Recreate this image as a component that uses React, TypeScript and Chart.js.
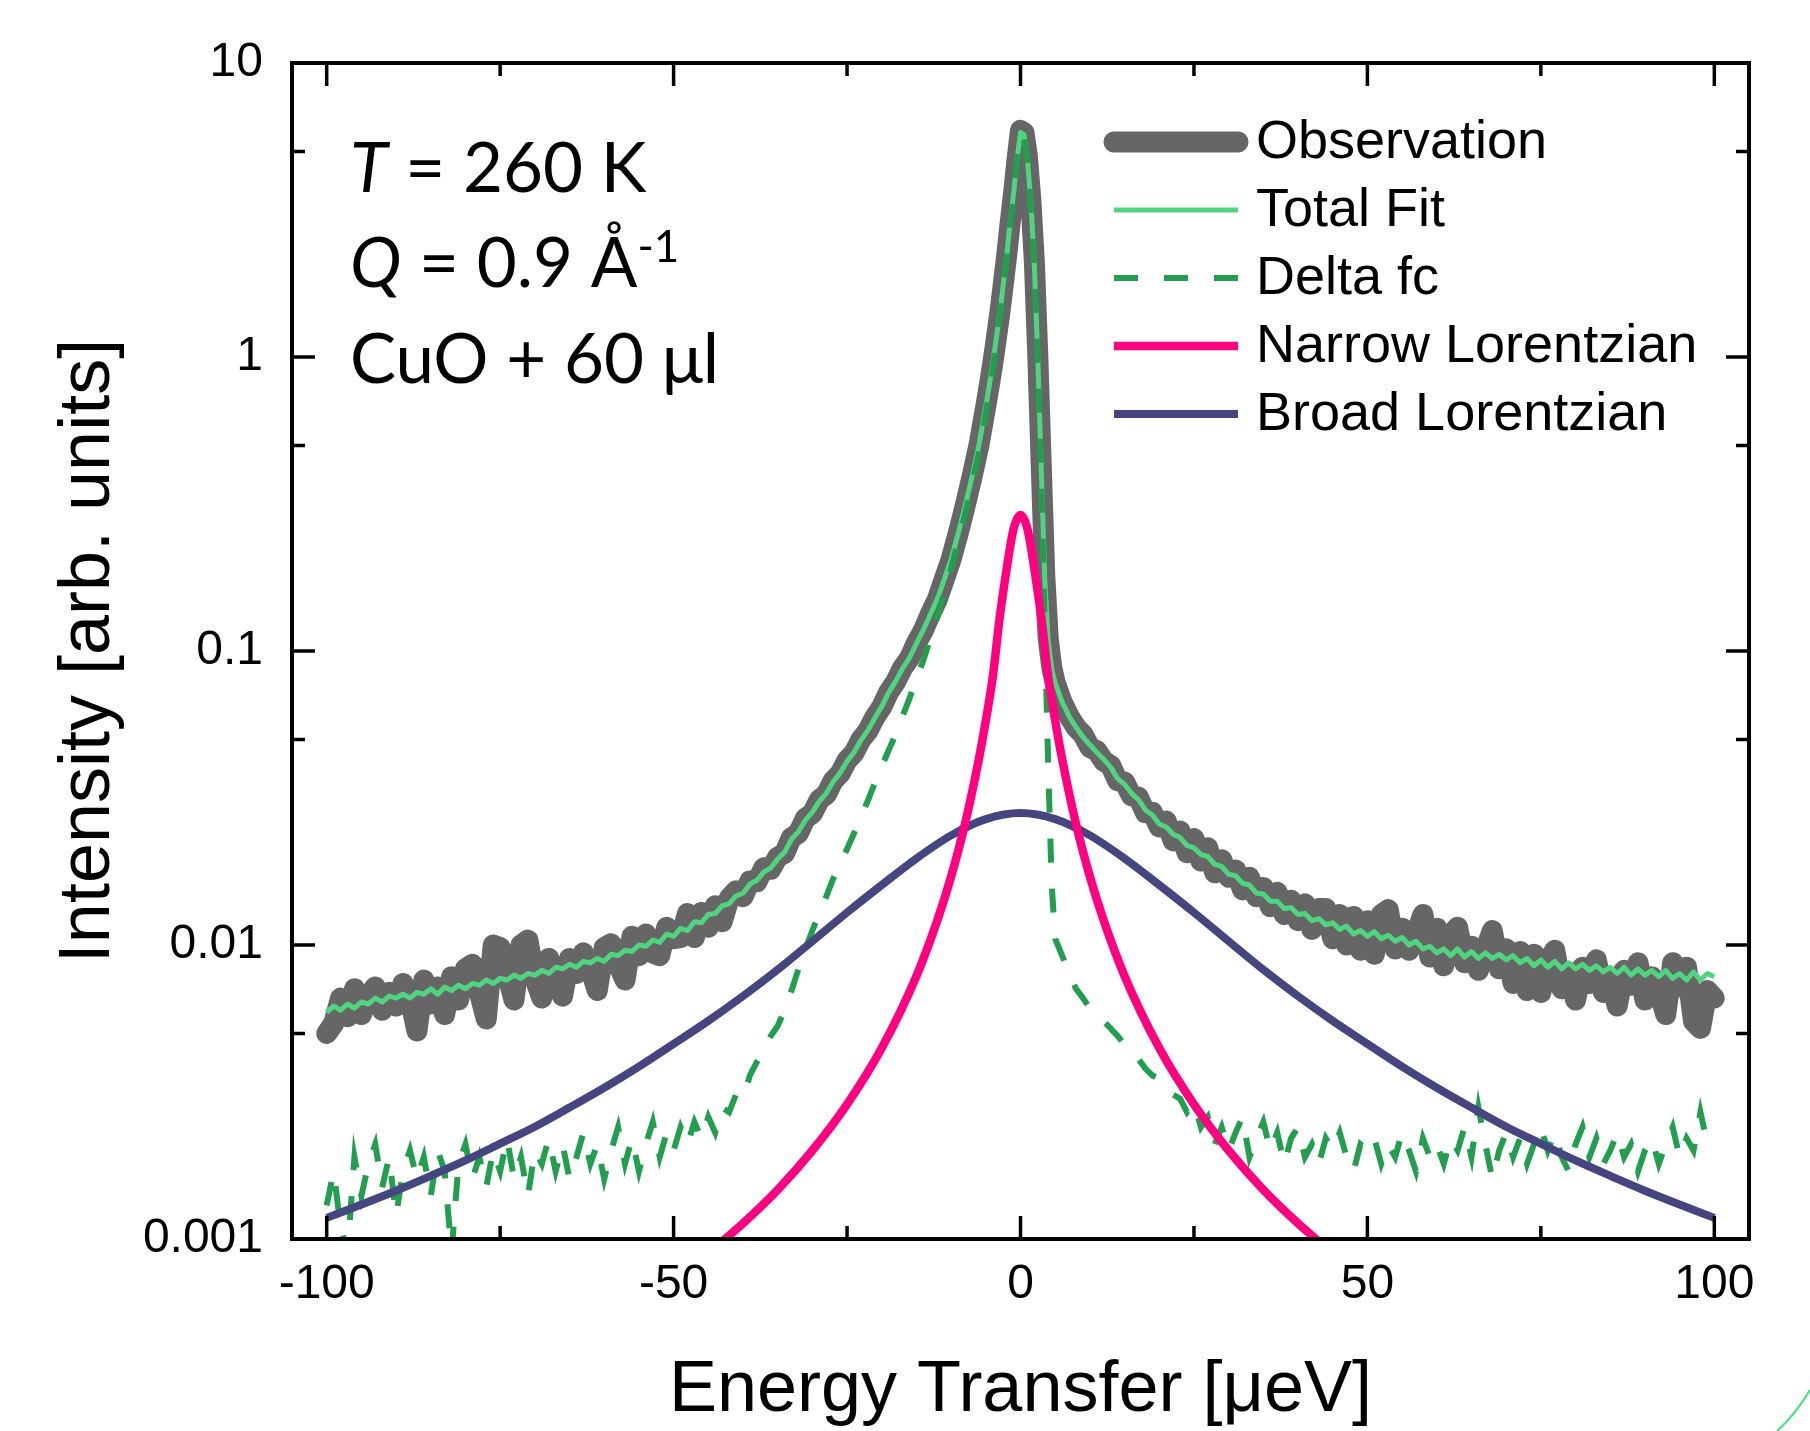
import React, { useEffect, useRef } from 'react';
import { Chart, registerables } from 'chart.js';

Chart.register(...registerables);

const W = 1810;
const H = 1431;

// ---- data -----------------------------------------------------------------
const energy = [
  -100, -99, -98, -97, -96, -95, -94, -93, -92, -91,
  -90, -89, -88, -87, -86, -85, -84, -83, -82, -81,
  -80, -79, -78, -77, -76, -75, -74, -73, -72, -71,
  -70, -69, -68, -67, -66, -65, -64, -63, -62, -61,
  -60, -59, -58, -57, -56, -55, -54, -53, -52, -51,
  -50, -49, -48, -47, -46, -45, -44, -43, -42, -41,
  -40, -39, -38, -37, -36, -35, -34, -33, -32, -31,
  -30, -29, -28, -27, -26, -25, -24, -23, -22, -21,
  -20, -19, -18, -17, -16, -15, -14, -13, -12, -11,
  -10, -9, -8, -7, -6, -5,
  -4.5, -4, -3.5, -3, -2.5, -2, -1.5, -1, -0.5, 0, 0.5, 1, 1.5, 2, 2.5, 3, 3.5, 4, 4.5,
  5, 6, 7, 8, 9, 10, 11, 12, 13, 14,
  15, 16, 17, 18, 19, 20, 21, 22, 23, 24,
  25, 26, 27, 28, 29, 30, 31, 32, 33, 34,
  35, 36, 37, 38, 39, 40, 41, 42, 43, 44,
  45, 46, 47, 48, 49, 50, 51, 52, 53, 54,
  55, 56, 57, 58, 59, 60, 61, 62, 63, 64,
  65, 66, 67, 68, 69, 70, 71, 72, 73, 74,
  75, 76, 77, 78, 79, 80, 81, 82, 83, 84,
  85, 86, 87, 88, 89, 90, 91, 92, 93, 94,
  95, 96, 97, 98, 99, 100,
];

const observation = [
  .0050, .0054, .0066, .0057, .0071, .0058, .0067, .0072, .0060, .0069,
  .0062, .0074, .0066, .0051, .0076, .0063, .0072, .0058, .0078, .0065,
  .0083, .0086, .0069, .0056, .0100, .0098, .0080, .0065, .0100, .0104,
  .0077, .0066, .0090, .0078, .0067, .0090, .0080, .0094, .0083, .0070,
  .0098, .0101, .0086, .0076, .0107, .0092, .0109, .0094, .0092, .0115,
  .0105, .0106, .0128, .0106, .0129, .0115, .0136, .0120, .0144, .0153,
  .0146, .0165, .0164, .0183, .0181, .0199, .0205, .0232, .0240, .0270,
  .0280, .0312, .0325, .0362, .0383, .0425, .0450, .0500, .0535, .0595,
  .0645, .0725, .0785, .0875, .0945, .1065, .1175, .1335, .1495, .175,
  .205, .25, .31, .39, .50, .68,
  .80, .95, 1.15, 1.40, 1.75, 2.2, 2.85, 3.6, 4.7, 5.9, 5.8, 4.8, 3.4, 2.1, 1.0, 0.42, 0.18, 0.11, 0.088,
  .078, .067, .060, .055, .052, .047, .0458, .0422, .0408, .0362,
  .0358, .0322, .0318, .0282, .0283, .0252, .0264, .0226, .0244, .0206,
  .0230, .0193, .0214, .0176, .0195, .0170, .0180, .0154, .0170, .0146,
  .0157, .0135, .0151, .0127, .0142, .0121, .0138, .0113, .0133, .0133,
  .0105, .0127, .0100, .0125, .0096, .0121, .0093, .0127, .0132, .0097,
  .0114, .0096, .0109, .0127, .0091, .0114, .0085, .0108, .0115, .0087,
  .0099, .0082, .0096, .0112, .0083, .0097, .0074, .0095, .0070, .0093,
  .0069, .0088, .0096, .0071, .0081, .0065, .0084, .0074, .0089, .0069,
  .0078, .0062, .0082, .0073, .0087, .0065, .0078, .0070, .0058, .0087,
  .0072, .0084, .0055, .0052, .0070, .0066,
];

const totalFit = [
  .0059, .0062, .0060, .0063, .0061, .0064, .0063, .0066, .0064, .0067,
  .0066, .0068, .0066, .0069, .0068, .0071, .0068, .0072, .0070, .0073,
  .0071, .0074, .0073, .0076, .0074, .0077, .0076, .0079, .0077, .0080,
  .0079, .0082, .0080, .0084, .0083, .0086, .0084, .0088, .0087, .0090,
  .0088, .0093, .0092, .0096, .0095, .0100, .0099, .0104, .0102, .0109,
  .0107, .0114, .0112, .0120, .0119, .0127, .0128, .0136, .0138, .0147,
  .0150, .0161, .0166, .0177, .0183, .0196, .0207, .0229, .0243, .0266,
  .0283, .0308, .0328, .0359, .0385, .0422, .0452, .0497, .0537, .0592,
  .0648, .0722, .0788, .0872, .0948, .106, .118, .133, .150, .175,
  .205, .25, .31, .39, .50, .68,
  .80, .95, 1.15, 1.40, 1.75, 2.2, 2.85, 3.6, 4.7, 5.8, 5.7, 4.7, 3.35, 2.05, 0.98, 0.41, 0.175, 0.108, 0.087,
  .078, .067, .060, .055, .051, .048, .0452, .0428, .0402, .0368,
  .0352, .0328, .0312, .0288, .0277, .0258, .0252, .0238, .0232, .0218,
  .0214, .0203, .0200, .0188, .0185, .0174, .0172, .0162, .0160, .0150,
  .0149, .0141, .0141, .0133, .0134, .0127, .0128, .0121, .0123, .0117,
  .0119, .0113, .0116, .0109, .0112, .0107, .0111, .0105, .0108, .0103,
  .0106, .0100, .0103, .0097, .0099, .0094, .0097, .0092, .0097, .0091,
  .0095, .0090, .0094, .0090, .0093, .0089, .0092, .0087, .0090, .0085,
  .0089, .0084, .0088, .0083, .0087, .0083, .0086, .0082, .0085, .0081,
  .0084, .0080, .0084, .0079, .0083, .0079, .0082, .0078, .0082, .0077,
  .0080, .0076, .0081, .0076, .0080, .0078,
];

const deltaFc = [
  .0013, .0017, .0011, .0009, .0019, .0014, .0018, .0021, .0015, .0019,
  .0012, .0017, .0020, .0016, .0019, .0014, .0020, .0017, .0009, .0018,
  .0021, .0016, .0019, .0015, .0020, .0017, .0022, .0016, .0019, .0014,
  .0020, .0018, .0022, .0017, .0021, .0016, .0019, .0023, .0018, .0021,
  .0016, .0020, .0024, .0018, .0022, .0017, .0021, .0025, .0019, .0023,
  .0020, .0024, .0021, .0025, .0022, .0026, .0023, .0028, .0027, .0031,
  .0030, .0036, .0040, .0044, .0049, .0053, .0060, .0070, .0083, .0097,
  .0112, .0128, .0146, .0168, .0188, .0212, .0240, .0272, .0310, .0355,
  .0405, .0460, .052, .060, .069, .080, .093, .110, .130, .158,
  .190, .235, .29, .37, .47, .64,
  .76, .90, 1.1, 1.35, 1.7, 2.15, 2.8, 3.5, 4.6, 5.7, 5.6, 4.6, 3.2, 2.0, 0.95, 0.38, 0.12, 0.04, 0.016,
  .0105, .0092, .0080, .0071, .0066, .0061, .0058, .0055, .0052, .0049,
  .0046, .0044, .0041, .0038, .0036, .0035, .0032, .0031, .0030, .0027,
  .0029, .0024, .0026, .0021, .0024, .0020, .0023, .0026, .0019, .0022,
  .0025, .0020, .0023, .0018, .0022, .0024, .0019, .0021, .0018, .0022,
  .0020, .0023, .0019, .0017, .0021, .0020, .0022, .0018, .0021, .0019,
  .0023, .0020, .0017, .0022, .0019, .0021, .0018, .0022, .0020, .0024,
  .0019, .0028, .0021, .0016, .0020, .0023, .0019, .0022, .0018, .0021,
  .0024, .0020, .0023, .0019, .0017, .0021, .0024, .0019, .0022, .0018,
  .0020, .0023, .0019, .0021, .0017, .0020, .0022, .0018, .0021, .0024,
  .0019, .0022, .0020, .0027, .0021, .0020,
];

const broadEnergy = [
  -100, -95, -90, -85, -80, -75, -70, -65, -60, -55, -50, -45, -40, -35, -30, -25, -20, -15, -10, -5,
  0,
  5, 10, 15, 20, 25, 30, 35, 40, 45, 50, 55, 60, 65, 70, 75, 80, 85, 90, 95, 100,
];
const broadLorentzian = [
  0.00118, 0.00131, 0.00146, 0.00164, 0.00185, 0.00211, 0.00241, 0.0028, 0.00327, 0.00386, 0.00461, 0.00552, 0.0067, 0.00824, 0.0103, 0.0129, 0.0160, 0.0197, 0.0236, 0.0268,
  0.0281,
  0.0268, 0.0236, 0.0197, 0.0160, 0.0129, 0.0103, 0.00824, 0.0067, 0.00552, 0.00461, 0.00386, 0.00327, 0.0028, 0.00241, 0.00211, 0.00185, 0.00164, 0.00146, 0.00131, 0.00118,
];

const narrowEnergy = [-45, -43, -40, -35, -30, -25, -20, -15, -12, -10, -8, -6, -5, -4, -3, -2, -1, 0, 1, 2, 3, 4, 5, 6, 8, 10, 12, 15, 20, 25, 30, 35, 40, 43, 45];
const narrowLorentzian = [
  0.00089, 0.00098, 0.00113, 0.00147, 0.0020, 0.00287, 0.00446, 0.00784, 0.0121, 0.0171, 0.0258, 0.0429, 0.058, 0.0815, 0.13, 0.19, 0.26,
  0.29,
  0.26, 0.19, 0.13, 0.0815, 0.058, 0.0429, 0.0258, 0.0171, 0.0121, 0.00784, 0.00446, 0.00287, 0.0020, 0.00147, 0.00113, 0.00098, 0.00089,
];

const seriesLabels = ['Observation', 'Total Fit', 'Delta fc', 'Narrow Lorentzian', 'Broad Lorentzian'];

const xTickValues = [-100, -50, 0, 50, 100];
const xTickLabels = ['-100', '-50', '0', '50', '100'];
const xMinorTicks = [-75, -25, 25, 75];
const yTickValues = [0.001, 0.01, 0.1, 1, 10];
const yTickLabels = ['0.001', '0.01', '0.1', '1', '10'];
const yMinorTicks = [0.005, 0.05, 0.5, 5];

const xTitle = 'Energy Transfer [\u03BCeV]';
const yTitle = 'Intensity [arb. units]';
const noteTemperature = ['T', ' = 260 K'];
const noteQ = ['Q', ' = 0.9 \u00C5', '-1'];
const noteSample = 'CuO + 60 \u03BCl';

// ---- helpers ----------------------------------------------------------------
const pts = (xs: number[], ys: number[]) => xs.map((x, i) => ({ x, y: ys[i] }));

const ARIAL = '"Liberation Sans", Arial, sans-serif';
const NOTE_FONT = 'Lato, "Open Sans", sans-serif';

const framePlugin = {
  id: 'frameAndDecor',
  afterDatasetsDraw(chart: any) {
    const { ctx, chartArea: a, scales } = chart;
    const xs = scales.x;
    const ys = scales.y;
    ctx.save();
    ctx.strokeStyle = '#000';
    ctx.lineCap = 'butt';
    ctx.lineWidth = 4;
    ctx.strokeRect(a.left, a.top, a.right - a.left, a.bottom - a.top);
    ctx.lineWidth = 3.5;
    const seg = (x1: number, y1: number, x2: number, y2: number) => {
      ctx.beginPath();
      ctx.moveTo(x1, y1);
      ctx.lineTo(x2, y2);
      ctx.stroke();
    };
    const MAJ = 23;
    const MIN = 13;
    xTickValues.forEach((v) => {
      const p = xs.getPixelForValue(v);
      seg(p, a.bottom, p, a.bottom - MAJ);
      seg(p, a.top, p, a.top + MAJ);
    });
    xMinorTicks.forEach((v) => {
      const p = xs.getPixelForValue(v);
      seg(p, a.bottom, p, a.bottom - MIN);
      seg(p, a.top, p, a.top + MIN);
    });
    yTickValues.forEach((v) => {
      const p = ys.getPixelForValue(v);
      seg(a.left, p, a.left + MAJ, p);
      seg(a.right, p, a.right - MAJ, p);
    });
    yMinorTicks.forEach((v) => {
      const p = ys.getPixelForValue(v);
      seg(a.left, p, a.left + MIN, p);
      seg(a.right, p, a.right - MIN, p);
    });
    ctx.restore();
  },
  afterDraw(chart: any) {
    const { ctx } = chart;
    ctx.save();

    // legend
    const rowY = [142, 210, 278, 346, 414];
    const lineX1 = 1114;
    const lineX2 = 1238;
    const textX = 1256;
    chart.data.datasets.forEach((ds: any, i: number) => {
      const y = rowY[i];
      ctx.beginPath();
      ctx.strokeStyle = ds.borderColor;
      ctx.lineWidth = ds.borderWidth;
      ctx.lineCap = ds.borderCapStyle || 'butt';
      ctx.setLineDash(ds.borderDash || []);
      ctx.moveTo(lineX1, y);
      ctx.lineTo(lineX2, y);
      ctx.stroke();
      ctx.setLineDash([]);
      ctx.fillStyle = '#000';
      ctx.font = `54px ${ARIAL}`;
      ctx.textBaseline = 'middle';
      ctx.textAlign = 'left';
      ctx.fillText(ds.label, textX, y + 1);
    });

    // annotations
    ctx.fillStyle = '#000';
    ctx.textBaseline = 'alphabetic';
    ctx.textAlign = 'left';
    const big = 69;
    const drawParts = (parts: { t: string; f: string; dy?: number }[], x: number, y: number) => {
      let cx = x;
      parts.forEach((p) => {
        ctx.font = p.f;
        ctx.fillText(p.t, cx, y + (p.dy || 0));
        cx += ctx.measureText(p.t).width;
      });
    };
    const nx = 350;
    drawParts(
      [
        { t: noteTemperature[0], f: `italic ${big}px ${NOTE_FONT}` },
        { t: noteTemperature[1], f: `${big}px ${NOTE_FONT}` },
      ],
      nx,
      192,
    );
    drawParts(
      [
        { t: noteQ[0], f: `italic ${big}px ${NOTE_FONT}` },
        { t: noteQ[1], f: `${big}px ${NOTE_FONT}` },
        { t: noteQ[2], f: `44px ${NOTE_FONT}`, dy: -25 },
      ],
      nx,
      287,
    );
    drawParts([{ t: noteSample, f: `${big}px ${NOTE_FONT}` }], nx, 383);

    // small decorative arc at the bottom-right corner
    ctx.beginPath();
    ctx.strokeStyle = '#3DE37B';
    ctx.lineWidth = 2;
    ctx.moveTo(1777, 1431);
    ctx.quadraticCurveTo(1795, 1415, 1810, 1390);
    ctx.stroke();

    ctx.restore();
  },
};

export default function App() {
  const ref = useRef<HTMLCanvasElement | null>(null);

  useEffect(() => {
    if (!ref.current) return;
    const chart = new Chart(ref.current, {
      type: 'line',
      data: {
        datasets: [
          {
            label: seriesLabels[0],
            data: pts(energy, observation),
            borderColor: '#666666',
            borderWidth: 21,
            borderCapStyle: 'round',
            borderJoinStyle: 'round',
            pointRadius: 0,
            tension: 0,
            order: 5,
          },
          {
            label: seriesLabels[1],
            data: pts(energy, totalFit),
            borderColor: '#50D47F',
            borderWidth: 5,
            borderJoinStyle: 'round',
            pointRadius: 0,
            tension: 0,
            order: 4,
          },
          {
            label: seriesLabels[2],
            data: pts(energy, deltaFc),
            borderColor: '#229E4E',
            borderWidth: 6,
            borderDash: [24, 26],
            pointRadius: 0,
            tension: 0,
            order: 3,
          },
          {
            label: seriesLabels[3],
            data: pts(narrowEnergy, narrowLorentzian),
            borderColor: '#FF0080',
            borderWidth: 8.5,
            pointRadius: 0,
            cubicInterpolationMode: 'monotone',
            clip: 0,
            order: 1,
          },
          {
            label: seriesLabels[4],
            data: pts(broadEnergy, broadLorentzian),
            borderColor: '#45457F',
            borderWidth: 8,
            pointRadius: 0,
            cubicInterpolationMode: 'monotone',
            order: 2,
          },
        ] as any,
      },
      options: {
        responsive: false,
        animation: false,
        devicePixelRatio: 1,
        layout: { padding: { left: 0, right: 61, top: 63, bottom: 0 } },
        plugins: {
          legend: { display: false },
          tooltip: { enabled: false },
        },
        events: [],
        scales: {
          x: {
            type: 'linear',
            min: -105,
            max: 105,
            grid: { display: false, drawTicks: false },
            border: { display: false },
            afterBuildTicks: (s: any) => {
              s.ticks = xTickValues.map((v) => ({ value: v }));
            },
            afterFit: (s: any) => {
              s.height = 192;
            },
            ticks: {
              padding: 17,
              color: '#000',
              font: { family: ARIAL, size: 48 },
              maxRotation: 0,
              autoSkip: false,
              callback: (_v: any, i: number) => xTickLabels[i],
            },
            title: {
              display: true,
              text: xTitle,
              color: '#000',
              font: { family: ARIAL, size: 72, lineHeight: 1 },
              padding: { top: 0, bottom: 4 },
            },
          },
          y: {
            type: 'logarithmic',
            min: 0.001,
            max: 10,
            grid: { display: false, drawTicks: false },
            border: { display: false },
            afterBuildTicks: (s: any) => {
              s.ticks = yTickValues.map((v) => ({ value: v }));
            },
            afterFit: (s: any) => {
              s.width = 292;
            },
            ticks: {
              padding: 29,
              color: '#000',
              font: { family: ARIAL, size: 48 },
              autoSkip: false,
              callback: (_v: any, i: number) => yTickLabels[i],
            },
            title: {
              display: true,
              text: yTitle,
              color: '#000',
              font: { family: ARIAL, size: 72, lineHeight: 1 },
              padding: { top: 53, bottom: 0 },
            },
          },
        },
      } as any,
      plugins: [framePlugin],
    });
    return () => chart.destroy();
  }, []);

  return (
    <div style={{ position: 'absolute', left: 0, top: 0, width: W, height: H, background: '#fff' }}>
      <canvas ref={ref} width={W} height={H} style={{ width: W, height: H, display: 'block' }} />
    </div>
  );
}
